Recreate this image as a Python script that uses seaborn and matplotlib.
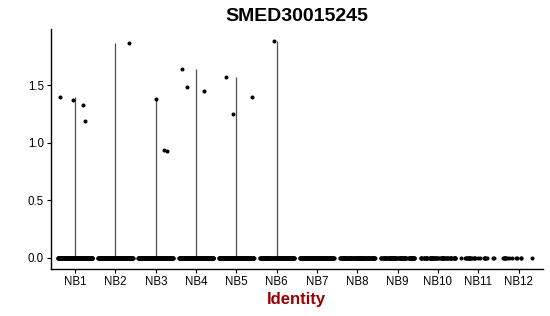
import numpy as np
import pandas as pd
import matplotlib
matplotlib.use("Agg")
import matplotlib.pyplot as plt
import seaborn as sns

# ---- data ----
groups = ["NB1", "NB2", "NB3", "NB4", "NB5", "NB6", "NB7", "NB8", "NB9", "NB10", "NB11", "NB12"]
cell_counts = [250, 240, 230, 230, 220, 150, 130, 120, 90, 60, 25, 14]
nonzero_values = {
    "NB1": [1.40, 1.19, 1.37, 1.33],
    "NB2": [1.87],
    "NB3": [0.94, 1.38, 0.93],
    "NB4": [1.49, 1.45, 1.64],
    "NB5": [1.57, 1.25, 1.40],
    "NB6": [1.89],
}
title = "SMED30015245"
xlabel = "Identity"
yticks = [0.0, 0.5, 1.0, 1.5]

rows = []
for g, n in zip(groups, cell_counts):
    nz = nonzero_values.get(g, [])
    vals = list(nz) + [0.0] * (n - len(nz))
    rows += [(g, v) for v in vals]
df = pd.DataFrame(rows, columns=["ident", "expr"])

sns.set_theme(style="white")
plt.rcParams["font.family"] = ["Liberation Sans", "DejaVu Sans"]

fig = plt.figure(figsize=(5.5, 3.16), dpi=100)
ax = fig.add_axes([0.0927, 0.149, 0.894, 0.759])

# violin as thin lines from 0 to group max
mx = df.groupby("ident", sort=False)["expr"].max().reindex(groups)
pos = np.arange(len(groups))
ax.vlines(pos, 0, mx.values, color="#4d4d4d", lw=0.9, zorder=1)

np.random.seed(7)
sns.stripplot(data=df, x="ident", y="expr", order=groups, jitter=0.43,
              color="black", size=2.9, linewidth=0, ax=ax, zorder=2)

ax.set_xlim(-0.6, len(groups) - 0.4)
ax.set_ylim(-0.096, 1.99)
ax.set_yticks(yticks)
ax.set_yticklabels([f"{v:.1f}" for v in yticks])
ax.set_ylabel("")
ax.set_xlabel(xlabel, fontsize=12, fontweight="bold", color="#990000", labelpad=3)
ax.set_title(title, fontsize=14, fontweight="bold", pad=6, color="black")

for s in ["top", "right"]:
    ax.spines[s].set_visible(False)
for s in ["left", "bottom"]:
    ax.spines[s].set_color("black")
    ax.spines[s].set_linewidth(1.0)
ax.tick_params(axis="both", which="both", direction="out", length=3, width=0.8,
               color="black", labelsize=8.3, labelcolor="black", bottom=True, left=True, pad=2)

fig.savefig("out.png", dpi=100)
